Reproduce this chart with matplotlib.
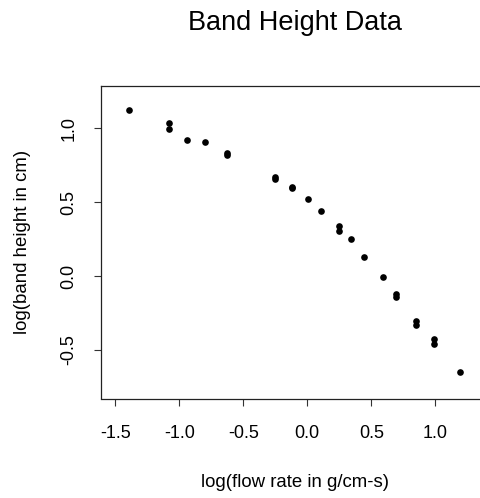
import matplotlib
matplotlib.use("Agg")
import matplotlib.pyplot as plt

plt.rcParams['font.family'] = ['Liberation Sans', 'DejaVu Sans']

# log flow rate (g/cm-s) and log band height (cm)
flow = [-1.39, -1.08, -1.08, -0.94, -0.80, -0.63, -0.63, -0.25, -0.25,
        -0.12, -0.12, 0.008, 0.107, 0.248, 0.248, 0.339, 0.44, 0.589,
        0.695, 0.695, 0.847, 0.847, 0.988, 0.988, 1.19]
height = [1.124, 1.036, 0.995, 0.921, 0.907, 0.833, 0.815, 0.671, 0.653,
          0.603, 0.593, 0.518, 0.439, 0.336, 0.302, 0.25, 0.131, -0.005,
          -0.124, -0.14, -0.302, -0.329, -0.428, -0.459, -0.651]
xticks = [-1.5, -1.0, -0.5, 0.0, 0.5, 1.0]
yticks = [-0.5, 0.0, 0.5, 1.0]

fig = plt.figure(figsize=(4.8, 4.98), dpi=100)
ax = fig.add_axes([101.3 / 480, 1 - 398.5 / 498, 1 - 101.3 / 480, (398.5 - 86.3) / 498])

ax.plot(flow, height, 'o', color='black', markersize=4.8, markeredgewidth=0)

ax.set_xlim(-1.609, 1.349)
ax.set_ylim(-0.828, 1.282)
ax.set_xticks(xticks)
ax.set_xticklabels(['%.1f' % t for t in xticks])
ax.set_yticks(yticks)
ax.set_yticklabels(['%.1f' % t for t in yticks], rotation=90, va='center')
ax.tick_params(axis='both', labelsize=13, length=5, width=0.8, color='#333333')
ax.tick_params(axis='x', pad=14)
ax.tick_params(axis='y', pad=12)

for s in ['left', 'bottom', 'top']:
    ax.spines[s].set_linewidth(0.9)
    ax.spines[s].set_color('#222222')
ax.spines['right'].set_visible(False)

# etiquetas y titulo en posiciones fijas de la figura
fig.text(295 / 480, 1 - 482.5 / 498, 'log(flow rate in g/cm-s)', fontsize=13.4,
         ha='center', va='center')
fig.text(23 / 480, 1 - 242 / 498, 'log(band height in cm)', fontsize=13.4,
         ha='center', va='center', rotation=90)
fig.text(295 / 480, 1 - 30 / 498, 'Band Height Data', fontsize=19.5,
         ha='center', va='baseline')

fig.savefig('out.png', dpi=100)
